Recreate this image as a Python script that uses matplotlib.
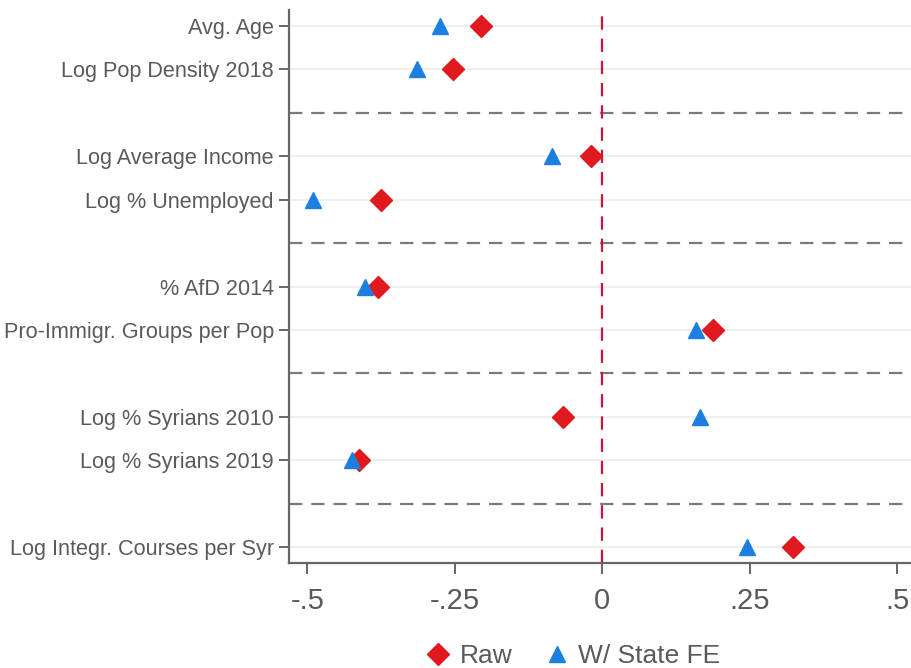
import numpy as np
import matplotlib.pyplot as plt
from matplotlib.lines import Line2D

# coefficient estimates
labels = ["Avg. Age", "Log Pop Density 2018",
          "Log Average Income", "Log % Unemployed",
          "% AfD 2014", "Pro-Immigr. Groups per Pop",
          "Log % Syrians 2010", "Log % Syrians 2019",
          "Log Integr. Courses per Syr"]
raw = [-0.205, -0.253, -0.020, -0.376, -0.380, 0.188, -0.066, -0.412, 0.324]
state_fe = [-0.275, -0.314, -0.085, -0.490, -0.403, 0.159, 0.166, -0.424, 0.246]
# groups of variables, separated by dashed lines
groups = [2, 2, 2, 2, 1]

xticks = [-0.5, -0.25, 0, 0.25, 0.5]
xticklabels = ["-.5", "-.25", "0", ".25", ".5"]

red = "#e0191e"
blue = "#1c7fe0"
txt = "#5a5a5a"

plt.rcParams["font.family"] = ["Liberation Sans", "DejaVu Sans"]

fig = plt.figure(figsize=(9.12, 6.68), dpi=100)
ax = fig.add_axes([0.317, 0.157, 0.683, 0.828])

# y positions: one slot per variable, an empty slot between groups
ypos = []
seps = []
slot = 1
for n in groups:
    for i in range(n):
        ypos.append(slot)
        slot += 1
    seps.append(slot)
    slot += 1
seps = seps[:-1]

for y in ypos:
    ax.axhline(y, color="#ececec", lw=1.2, zorder=0)
for s in seps:
    ax.axhline(s, color="#7a7a7a", lw=1.6, ls=(0, (6, 4)), zorder=1)
ax.axvline(0, color="#c8153a", lw=1.6, ls=(0, (6, 4)), zorder=1)

ax.plot(raw, ypos, ls="none", marker="D", ms=11, color=red, zorder=3)
ax.plot(state_fe, ypos, ls="none", marker="^", ms=11, color=blue, zorder=3)

ax.set_xlim(-0.531, 0.525)
ax.set_ylim(13.37, 0.63)
ax.set_yticks(ypos)
ax.set_yticklabels(labels, fontsize=15.6, color=txt)
ax.set_xticks(xticks)
ax.set_xticklabels(xticklabels, fontsize=21, color=txt)
ax.tick_params(axis="y", length=7, width=1.4, color="#666666", pad=4)
ax.tick_params(axis="x", length=8, width=1.4, color="#666666", pad=9)

for side in ["top", "right"]:
    ax.spines[side].set_visible(False)
for side in ["left", "bottom"]:
    ax.spines[side].set_color("#666666")
    ax.spines[side].set_linewidth(1.6)

handles = [Line2D([], [], ls="none", marker="D", ms=11, color=red),
           Line2D([], [], ls="none", marker="^", ms=11, color=blue)]
leg = fig.legend(handles, ["Raw", "W/ State FE"], loc="center",
                 bbox_to_anchor=(0.628, 0.018), ncol=2, frameon=False,
                 fontsize=19, handletextpad=0.3, columnspacing=1.2,
                 handlelength=1.0)
for t in leg.get_texts():
    t.set_color(txt)

fig.savefig("out.png", dpi=100)
